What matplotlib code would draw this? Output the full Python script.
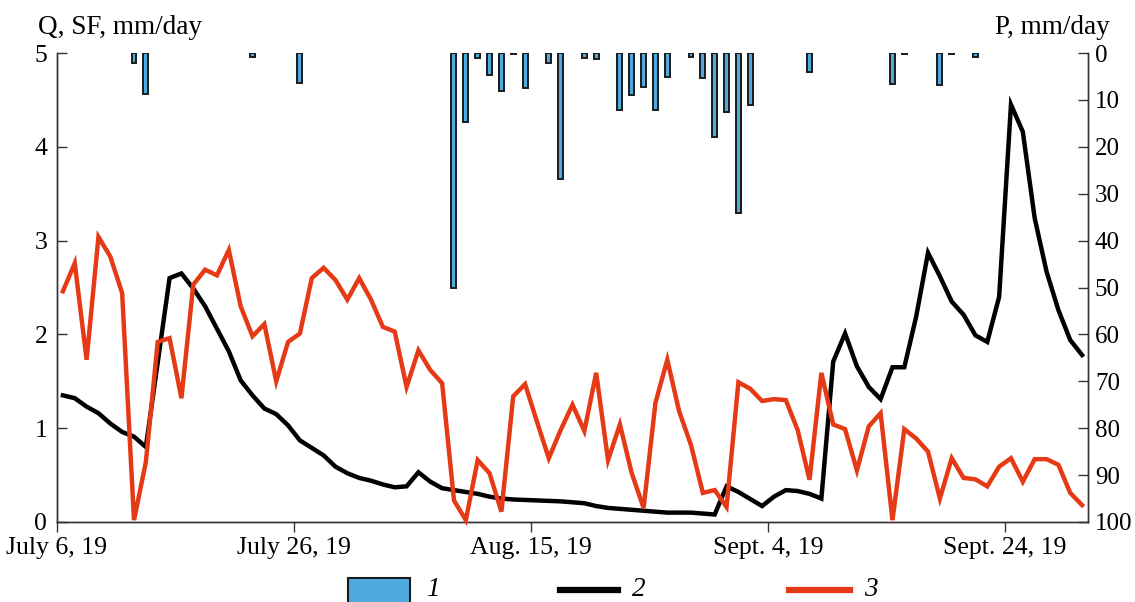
import numpy as np
import pandas as pd
import matplotlib
matplotlib.use("Agg")
import matplotlib.pyplot as plt
import matplotlib.dates as mdates
from matplotlib.patches import Rectangle
from matplotlib.lines import Line2D

plt.rcParams['font.family'] = ['Liberation Serif', 'DejaVu Serif']

# daily series, July 6 .. Sept 30, 2019
dates = pd.date_range("2019-07-06 12:00", periods=87, freq="D")

# 2 - black line
q = [1.35, 1.32, 1.23, 1.16, 1.05, 0.96, 0.91, 0.80, 1.70, 2.60,
     2.65, 2.49, 2.30, 2.06, 1.82, 1.51, 1.35, 1.21, 1.15, 1.03,
     0.87, 0.79, 0.71, 0.59, 0.52, 0.47, 0.44, 0.40, 0.37, 0.38,
     0.53, 0.43, 0.36, 0.34, 0.32, 0.30, 0.27, 0.25, 0.24, 0.235,
     0.23, 0.225, 0.22, 0.21, 0.20, 0.17, 0.15, 0.14, 0.13, 0.12,
     0.11, 0.10, 0.10, 0.10, 0.09, 0.08, 0.38, 0.32, 0.245, 0.17,
     0.27, 0.34, 0.33, 0.30, 0.25, 1.71, 2.01, 1.66, 1.44, 1.31,
     1.65, 1.65, 2.19, 2.87, 2.62, 2.35, 2.21, 1.99, 1.92, 2.40,
     4.45, 4.16, 3.24, 2.67, 2.26, 1.94, 1.78]

# 3 - red line
sf = [2.46, 2.76, 1.73, 3.04, 2.83, 2.44, 0.02, 0.64, 1.92, 1.96,
      1.32, 2.53, 2.69, 2.63, 2.90, 2.30, 1.98, 2.11, 1.50, 1.92,
      2.01, 2.60, 2.71, 2.58, 2.37, 2.60, 2.37, 2.08, 2.03, 1.44,
      1.83, 1.62, 1.48, 0.23, 0.02, 0.66, 0.52, 0.11, 1.34, 1.47,
      1.07, 0.68, 0.98, 1.25, 0.97, 1.59, 0.66, 1.04, 0.52, 0.15,
      1.27, 1.73, 1.18, 0.82, 0.31, 0.34, 0.16, 1.49, 1.42, 1.29,
      1.31, 1.30, 0.98, 0.45, 1.59, 1.04, 0.99, 0.55, 1.02, 1.16,
      0.02, 0.99, 0.89, 0.75, 0.25, 0.68, 0.47, 0.455, 0.38, 0.59,
      0.68, 0.43, 0.67, 0.67, 0.61, 0.31, 0.18]

# 1 - precipitation bars
rain_days = ["2019-07-12", "2019-07-13", "2019-07-22", "2019-07-26",
             "2019-08-08", "2019-08-09", "2019-08-10", "2019-08-11",
             "2019-08-12", "2019-08-13", "2019-08-14", "2019-08-16",
             "2019-08-17", "2019-08-19", "2019-08-20", "2019-08-22",
             "2019-08-23", "2019-08-24", "2019-08-25", "2019-08-26",
             "2019-08-28", "2019-08-29", "2019-08-30", "2019-08-31",
             "2019-09-01", "2019-09-02", "2019-09-07", "2019-09-14",
             "2019-09-15", "2019-09-18", "2019-09-19", "2019-09-21"]
rain = [2.2, 8.7, 0.9, 6.3,
        50.0, 14.7, 1.1, 4.7,
        8.1, 0.3, 7.5, 2.2,
        26.9, 1.1, 1.3, 12.2,
        9.0, 7.2, 12.2, 5.2,
        0.9, 5.4, 18.0, 12.5,
        34.2, 11.1, 4.0, 6.5,
        0.3, 6.8, 0.3, 0.9]
rain_dates = pd.to_datetime(rain_days) + pd.Timedelta(hours=12)

tick_dates = pd.to_datetime(["2019-07-06", "2019-07-26", "2019-08-15",
                             "2019-09-04", "2019-09-24"])
tick_labels = ["July 6, 19", "July 26, 19", "Aug. 15, 19",
               "Sept. 4, 19", "Sept. 24, 19"]

blue = "#4DACDD"
red = "#E63A17"

fig = plt.figure(figsize=(11.35, 6.02), dpi=100)
ax = fig.add_axes([0.0502, 0.1329, 0.9084, 0.779])
ax2 = ax.twinx()

ax.plot(dates, q, color="black", lw=3.2, solid_joinstyle="miter", zorder=3)
ax.plot(dates, sf, color=red, lw=3.2, solid_joinstyle="miter",
        clip_on=False, zorder=4)

ax2.bar(rain_dates, rain, width=0.42, color=blue, edgecolor="#1a1a1a",
        linewidth=1.4)

ax.set_xlim(pd.Timestamp("2019-07-06"), pd.Timestamp("2019-10-01"))
ax.set_ylim(0, 5)
ax2.set_ylim(100, 0)
ax.set_yticks(range(0, 6))
ax2.set_yticks(range(0, 101, 10))
ax.set_xticks(tick_dates)
ax.set_xticklabels(tick_labels)

ax.set_zorder(ax2.get_zorder() + 1)
ax.patch.set_visible(False)

for a in (ax, ax2):
    a.spines["top"].set_visible(False)
    for s in a.spines.values():
        s.set_color("#333333")
        s.set_linewidth(1.0)
ax.tick_params(axis="y", direction="in", length=7, width=1, labelsize=18.5,
               pad=7, colors="#333333", labelcolor="black")
ax.tick_params(axis="x", direction="out", length=7, width=1, labelsize=18.5,
               pad=4, colors="#333333", labelcolor="black")
ax2.tick_params(axis="y", direction="in", length=7, width=1, labelsize=18,
                pad=5, colors="#333333", labelcolor="black")

fig.text(38 / 1135, 1 - 27 / 602, "Q, SF, mm/day", fontsize=19.5,
         ha="left", va="center")
fig.text(1110 / 1135, 1 - 27 / 602, "P, mm/day", fontsize=19.5,
         ha="right", va="center")

# legend drawn by hand at the bottom
W, H = 1135.0, 602.0
fig.add_artist(Rectangle((348 / W, (H - 606) / H), 62 / W, 28 / H,
                         transform=fig.transFigure, facecolor=blue,
                         edgecolor="#1a1a1a", lw=1.5, clip_on=False))
fig.text(426 / W, 1 - 590 / H, "1", fontsize=19.5, style="italic",
         ha="left", va="center")
fig.add_artist(Line2D([560 / W, 618 / W], [1 - 590 / H, 1 - 590 / H],
                      transform=fig.transFigure, color="black", lw=4.5))
fig.text(632 / W, 1 - 590 / H, "2", fontsize=19.5, style="italic",
         ha="left", va="center")
fig.add_artist(Line2D([789 / W, 850 / W], [1 - 590 / H, 1 - 590 / H],
                      transform=fig.transFigure, color=red, lw=4.5))
fig.text(864 / W, 1 - 590 / H, "3", fontsize=19.5, style="italic",
         ha="left", va="center")

fig.savefig("out.png", dpi=100)
